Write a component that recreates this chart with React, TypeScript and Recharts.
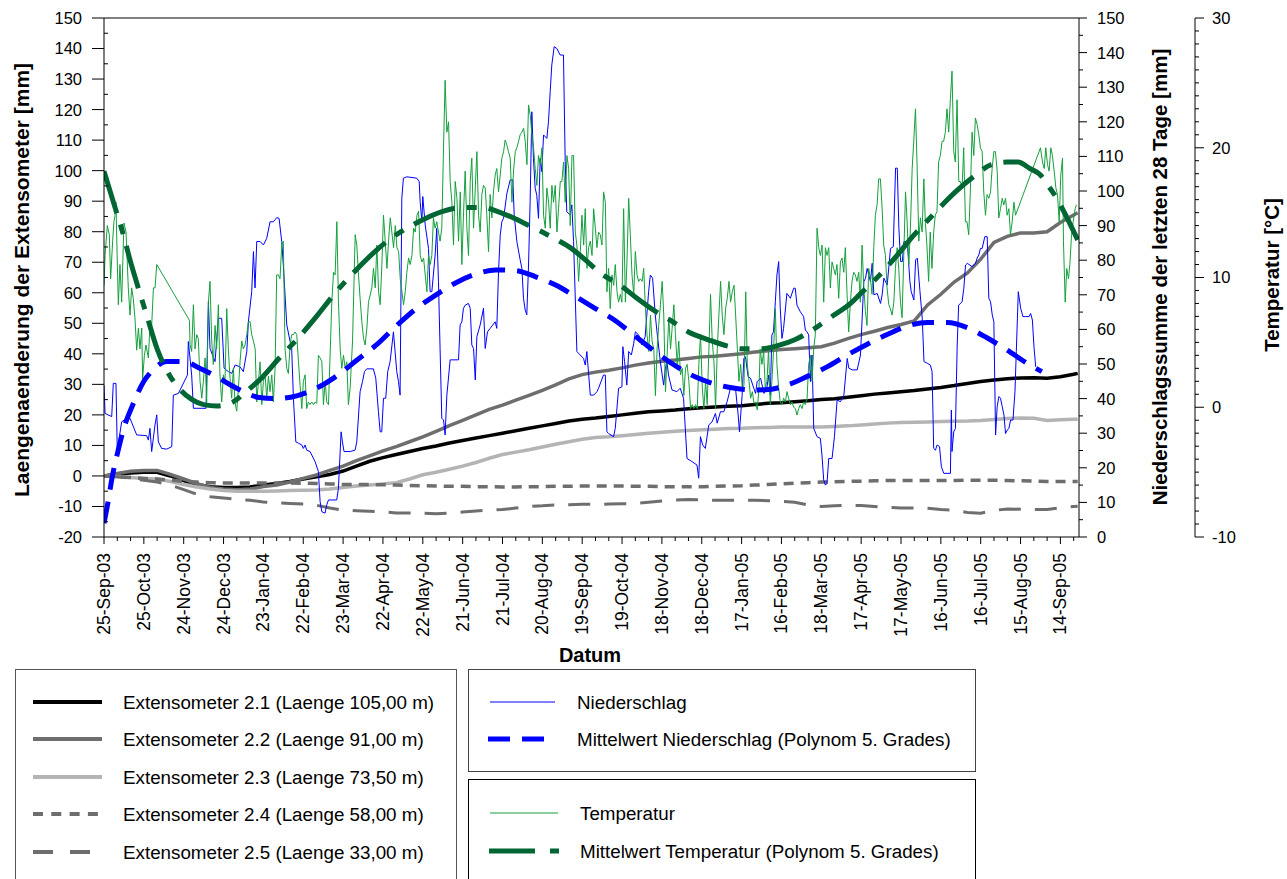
import React from 'react'
import { LineChart, Line, XAxis, YAxis, ReferenceLine } from 'recharts'

const FONT = 'Arial, "Liberation Sans", Helvetica, sans-serif'

// date axis: one label every 30 days, starting 25-Sep-03 (day 0)
const DATE_LABELS = [
  '25-Sep-03', '25-Oct-03', '24-Nov-03', '24-Dec-03', '23-Jan-04', '22-Feb-04', '23-Mar-04',
  '22-Apr-04', '22-May-04', '21-Jun-04', '21-Jul-04', '20-Aug-04', '19-Sep-04', '19-Oct-04',
  '18-Nov-04', '18-Dec-04', '17-Jan-05', '16-Feb-05', '18-Mar-05', '17-Apr-05', '17-May-05',
  '16-Jun-05', '16-Jul-05', '15-Aug-05', '14-Sep-05',
]
const X_TICKS = Array.from({ length: 74 }, (_, i) => i * 10)
const EXT_TICKS = Array.from({ length: 35 }, (_, i) => -20 + i * 5)
const PREC_TICKS = Array.from({ length: 31 }, (_, i) => i * 5)
const TEMP_TICKS = Array.from({ length: 41 }, (_, i) => -10 + i)

// extensometer readings, sampled every 10 days
const EXT_DAYS = [
  0, 10, 20, 30, 40, 50, 60, 70, 80, 90, 100, 110, 120, 130, 140, 150, 160, 170, 180, 190,
  200, 210, 220, 230, 240, 250, 260, 270, 280, 290, 300, 310, 320, 330, 340, 350, 360, 370,
  380, 390, 400, 410, 420, 430, 440, 450, 460, 470, 480, 490, 500, 510, 520, 530, 540, 550,
  560, 570, 580, 590, 600, 610, 620, 630, 640, 650, 660, 670, 680, 690, 700, 710, 720, 730, 733,
]
const EXT_21 = [
  0, 0.6, 1.0, 1.2, 1.2, 0, -1.5, -2.8, -3.5, -3.8, -3.8, -3.6, -3.0, -2.5, -1.8, -1.0, -0.3, 0.5, 1.6, 3.2,
  4.8, 6.0, 7.0, 8.0, 9.0, 9.8, 10.8, 11.6, 12.4, 13.2, 14.0, 14.8, 15.6, 16.4, 17.2, 18.0, 18.6, 19.0,
  19.5, 20.0, 20.5, 21.0, 21.3, 21.6, 22.0, 22.3, 22.6, 22.8, 23.0, 23.4, 23.8, 24.0, 24.3, 24.6, 25.0, 25.3,
  25.8, 26.3, 26.8, 27.2, 27.6, 28.0, 28.5, 29.0, 29.6, 30.3, 30.9, 31.4, 31.8, 32.1, 32.2, 32.0, 32.5, 33.3, 33.6,
]
const EXT_22 = [
  0, 0.8, 1.5, 1.8, 1.8, 0.5, -1.0, -2.5, -3.8, -4.3, -4.5, -4.3, -3.5, -3.0, -2.0, -0.8, 0.3, 1.8, 3.2, 5.0,
  6.6, 8.2, 9.6, 11.2, 12.8, 14.6, 16.5, 18.2, 20.0, 21.8, 23.2, 24.8, 26.4, 28.0, 29.8, 31.8, 33.2, 34.0,
  34.6, 35.4, 36.3, 37.0, 37.6, 38.0, 38.5, 39.0, 39.2, 39.6, 40.0, 40.6, 41.0, 41.4, 41.7, 42.0, 42.3, 43.5,
  45.0, 46.3, 47.4, 48.6, 49.6, 50.8, 56.0, 59.5, 63.5, 66.5, 71.0, 76.5, 78.5, 79.6, 79.6, 80.0, 83.0, 85.5, 86.2,
]
const EXT_23 = [
  0, -0.3, -0.5, -0.8, -1.0, -1.8, -2.8, -3.6, -4.3, -4.8, -5.0, -5.0, -5.0, -4.9, -4.8, -4.7, -4.6, -4.3, -3.8, -3.3,
  -3.0, -2.6, -2.2, -1.0, 0.4, 1.2, 2.2, 3.2, 4.4, 5.8, 7.0, 7.8, 8.6, 9.5, 10.4, 11.2, 12.0, 12.6,
  12.8, 13.2, 13.6, 14.0, 14.3, 14.6, 14.9, 15.1, 15.3, 15.5, 15.6, 15.8, 15.9, 16.0, 16.0, 16.0, 16.0, 16.2,
  16.4, 16.7, 17.0, 17.3, 17.5, 17.6, 17.7, 17.8, 17.9, 18.0, 18.2, 18.5, 18.8, 19.0, 18.9, 18.2, 18.4, 18.6, 18.6,
]
const EXT_24 = [
  0, -0.3, -0.5, -0.8, -1.0, -1.4, -1.8, -2.0, -2.2, -2.3, -2.3, -2.3, -2.3, -2.3, -2.3, -2.4, -2.5, -2.6, -2.8, -2.8,
  -2.8, -2.9, -3.0, -3.1, -3.2, -3.3, -3.4, -3.4, -3.5, -3.5, -3.6, -3.6, -3.5, -3.5, -3.4, -3.4, -3.3, -3.3,
  -3.3, -3.3, -3.4, -3.4, -3.5, -3.5, -3.5, -3.5, -3.4, -3.3, -3.2, -3.0, -2.8, -2.6, -2.4, -2.2, -2.0, -1.9,
  -1.8, -1.7, -1.6, -1.5, -1.5, -1.5, -1.5, -1.5, -1.5, -1.4, -1.4, -1.4, -1.5, -1.6, -1.7, -1.8, -1.8, -1.8, -1.8,
]
const EXT_25 = [
  0, -0.3, -0.8, -1.4, -2.0, -3.0, -4.5, -6.0, -6.8, -7.2, -7.6, -8.0, -8.5, -8.8, -9.0, -9.2, -9.6, -10.5, -11.2, -11.4,
  -11.6, -11.8, -12.1, -12.1, -12.2, -12.4, -12.2, -11.8, -11.5, -11.2, -11.0, -10.5, -10.0, -9.8, -9.5, -9.4, -9.3, -9.3,
  -9.2, -9.1, -9.0, -8.6, -8.2, -7.9, -7.7, -7.8, -8.0, -8.0, -8.0, -8.0, -8.1, -8.3, -8.6, -9.5, -10.0, -9.8,
  -9.6, -9.7, -10.0, -10.3, -10.5, -10.5, -10.6, -11.0, -11.2, -12.0, -12.2, -11.3, -10.8, -10.9, -11.0, -11.0, -10.4, -10.0, -9.9,
]

// Niederschlagssumme der letzten 28 Tage [mm]: [day, mm]
const PRECIP: number[][] = [
  [0, 43.9], [0.8, 35.7], [5.8, 34.8], [7, 44.4], [9, 44.4], [10, 25], [13.3, 33.3], [17.1, 34.3], [19.6, 34.3],
  [24.6, 29.5], [32.1, 29.3], [33.4, 28.0], [34.6, 31.4], [35.9, 24.7], [38.4, 32.4], [39.7, 35.3], [40.9, 27.5],
  [43.4, 25.6], [47.2, 25.4], [51, 26.1], [52.2, 41.0], [56, 41.5], [62.8, 46.8], [63.5, 56.5], [66, 46.8],
  [67.3, 37.2], [76.8, 37.2], [78.6, 68.0], [79.8, 54.5], [83.6, 50.7], [86.1, 63.2], [88.6, 63.2], [90.4, 48.8],
  [93.6, 47.8], [96.2, 47.3], [98.7, 49.7], [102.4, 49.2], [104.9, 47.8], [107.5, 53.6], [108.7, 62.2], [111.2, 70.9],
  [112.5, 82.5], [113.7, 72.0], [115, 85.4], [117.5, 85.4], [120, 84.4], [122.5, 86.3], [125, 91.1],
  [127.5, 91.1], [130, 92.3], [131.8, 92.1], [133.8, 85.4], [135, 78.6], [137.6, 61.3], [140.1, 56.5], [141.3, 54.5],
  [142.6, 40.1], [144.4, 27.5], [146.4, 27.1], [148.9, 26.6], [150.1, 25.6], [151.4, 26.6], [152.6, 25.1], [155.1, 24.7],
  [158.9, 21.8], [161.4, 18.9], [162.7, 10.2], [164, 7.3], [166.4, 6.9], [167.7, 9.3], [169, 10.7], [175.2, 10.7],
  [176.5, 14.1], [178.5, 30.4], [179.5, 27.5], [180.7, 24.7], [185.3, 24.7], [189, 25.1], [190.3, 27.5], [192.8, 42.0],
  [194.6, 44.9], [196.1, 47.8], [197.8, 48.6], [202.8, 48.6], [204.6, 45.9], [206.6, 36.2], [207.9, 30.4], [209.1, 30.4],
  [210.4, 40.1], [212.1, 40.1], [213.6, 47.8], [215.4, 50.7], [217.9, 59.3], [220.4, 47.8], [221.7, 44.9], [222.9, 41.0],
  [224.2, 97.9], [225.4, 103.7], [228, 104.1], [235.5, 103.7], [237.3, 102.7], [238, 96.9], [239.3, 91.1], [240, 98.4],
  [241.8, 90.2], [244.3, 83.4], [245.5, 70.9], [246.8, 70.9],
  [249.3, 81.5], [250.5, 89.2], [251.8, 73.8], [253, 54.5], [254.3, 34.3], [255.6, 33.8], [256.8, 29.5], [258.1, 41.0],
  [260.6, 51.2], [266.9, 51.2], [268.1, 61.3], [269.4, 62.2], [270.6, 66.1], [271.9, 67.0], [274.4, 67.5], [275.7, 66.1],
  [276.9, 55.5], [278.2, 54.5], [279.5, 45.4], [280.7, 57.9], [283.2, 61.3], [285.7, 66.1], [287, 54.5], [288.7, 59.3],
  [290.7, 60.3], [294.5, 62.2], [295.7, 60.3], [297, 76.7], [298.3, 87.3], [299.5, 91.1], [300.8, 92.1], [303.3, 99.3],
  [305.8, 103.2], [307.8, 103.2], [308.8, 93.1], [310.8, 85.4], [313.3, 80.1], [314.6, 77.6], [315.8, 69.0], [317.1, 65.6],
  [318.3, 64.2], [319.6, 78.6], [320.8, 96.9], [322.1, 122.9], [323.3, 109.4], [324.6, 100.8], [325.8, 98.8], [327.1, 92.1],
  [328.4, 109.4], [329.6, 105.6], [330.9, 116.2], [333.4, 115.2], [334.6, 120.0], [335.9, 128.7], [337.1, 136.4],
  [338.9, 141.7], [340.9, 141.2], [343.4, 139.3], [345.9, 139.3], [347.2, 108.5], [348.4, 94.0], [351, 93.1], [352.2, 96.0],
  [353.5, 85.4], [356, 53.6], [358.5, 52.6], [361, 51.6], [362.3, 49.7], [363.5, 53.6], [366.1, 41.0], [368.6, 41.0],
  [371.1, 42.0], [372.3, 43.0], [376, 46.8], [377.4, 46.8], [378.6, 30.4], [379.9, 29.9], [383.6, 29.0], [384.9, 31.4],
  [387.4, 43.0], [389.9, 43.4], [390.6, 55.0], [391.9, 50.7], [393.6, 43.9], [395, 53.6], [397, 52.6], [398.8, 56.0],
  [400, 59.3], [402.5, 58.4], [405, 55.5], [407.4, 57.9], [410, 70.9], [411.3, 75.7], [413, 74.8], [415, 64.2],
  [416.3, 59.3], [418.8, 50.7], [421.3, 43.9], [422.6, 48.8], [423.8, 50.7], [425, 46.8], [427.6, 42.5], [431.3, 42.0],
  [433.8, 43.0], [436.3, 40.1], [438.9, 22.7], [442.6, 21.8], [446.4, 20.8], [447.7, 17.0], [449, 29.0], [450.7, 26.6],
  [452.7, 25.6], [455.3, 32.4], [457.8, 33.3], [460.3, 35.7], [461.6, 32.9], [464.1, 36.2], [466.6, 36.2], [469.1, 39.1],
  [471.6, 43.0], [475.4, 43.0], [477.4, 35.3], [478.4, 30.4], [480.4, 41.0], [481.7, 51.6], [482.9, 52.1], [484.9, 46.3],
  [486.7, 45.9], [489.2, 43.0], [490.5, 41.5], [491.7, 44.9], [494.3, 45.9], [496.8, 41.5], [499, 43.0],
  [500.3, 46.8], [501.6, 41.0], [502.8, 58.4], [504, 59.3], [505.4, 68.0], [506.6, 75.7], [507.9, 79.6], [509.1, 66.1],
  [510.4, 57.4], [511.6, 60.3], [514.1, 70.4], [516.7, 69.0], [519.2, 71.9], [520.4, 71.9], [521.7, 67.0], [524.2, 65.1],
  [526.7, 63.7], [528, 59.8], [529.2, 59.3], [530.5, 58.4], [531.8, 44.9], [533, 52.6], [534.3, 31.4], [536.8, 29.0],
  [539.3, 28.5], [540.5, 23.7], [541.8, 16.5], [543.1, 15.0], [544.3, 15.5], [545.6, 22.7], [548.1, 22.7], [549.9, 29.0],
  [551.9, 39.6], [554.4, 39.1], [557, 41.0], [559.5, 51.6], [560.7, 48.8], [563.3, 48.3], [567, 48.3], [569.5, 52.6],
  [572, 73.8], [573.3, 74.8], [574.5, 77.6], [577, 73.8], [578.3, 79.1], [579.6, 70.0], [582.1, 70.4], [584.6, 67.5],
  [585.8, 70.0], [587.1, 74.8], [589.6, 72.8], [592.1, 83.4], [594.2, 83.9], [595.9, 106.6], [597.2, 106.6], [598.4, 89.2],
  [599.7, 79.6], [601, 79.6], [602.2, 85.4], [604.7, 85.4], [606.7, 73.8], [607.7, 70.9], [609.7, 68.5], [611, 80.1],
  [612.3, 80.6], [614.3, 70.9], [616, 63.2], [617.3, 50.7], [619.8, 50.2],
  [622.1, 49.7], [623.4, 47.8], [624.6, 25.6], [625.9, 25.1], [627.2, 26.6], [629, 26.1], [630.4, 20.3], [632.2, 18.4],
  [637.2, 18.4], [637.9, 36.7], [638.4, 24.7], [639.7, 30.4], [641, 31.4], [642.3, 55.5], [643.4, 67.0], [646, 68.0],
  [647.3, 71.9], [648.6, 78.6], [649.9, 79.1], [653.6, 78.1], [656.1, 79.1], [657.3, 80.6], [658.6, 81.5], [659.8, 83.4],
  [661.1, 83.4], [663.1, 86.8], [664.9, 86.8], [666.1, 69.0], [667.4, 68.0], [668.7, 64.2], [669.9, 62.2], [671.2, 29.5],
  [672.4, 37.7], [673.7, 40.6], [674.9, 40.1], [676.2, 37.7], [677.5, 35.3], [678.7, 29.9], [680, 30.9], [681.2, 31.4],
  [682.5, 33.8], [684.3, 33.8], [685.8, 42.0], [686.8, 53.6], [688.3, 70.9], [690.1, 66.1], [691.8, 63.7], [693.9, 63.7],
  [696.4, 63.7], [697.6, 64.6], [698.9, 62.7], [700.2, 54.5], [701.4, 49.2],
]

const PRECIP_TREND: number[][] = [
  [0, 4], [3, 10], [6, 17], [10, 24], [15, 31.5], [22, 38.5], [30, 45], [37, 48.3], [47, 50.7], [60, 50.7],
  [72, 48.8], [85, 46.3], [95, 44], [105, 42], [117, 40.3], [130, 40], [145, 40.8], [160, 43], [175, 46.5],
  [190, 51], [205, 55.5], [220, 61], [235, 66], [250, 70], [265, 73.5], [280, 76], [295, 77.2], [310, 77],
  [325, 75.2], [340, 72.8], [355, 69.5], [370, 66], [385, 62.5], [400, 58], [415, 53.5], [430, 49.5], [445, 46.3],
  [460, 44.2], [475, 43], [490, 42.5], [500, 42.6], [515, 44], [530, 46.5], [545, 49.3], [560, 52.7], [575, 55.8],
  [590, 58.6], [605, 61], [620, 62], [635, 62], [650, 60.5], [665, 57.5], [680, 54], [695, 50.2], [706, 47.8],
]

// Temperatur [°C]: [day, °C]
const TEMP: number[][] = [
  [0, 9.4], [0.8, 11.7], [2.5, 14.0], [4, 13.3], [5, 9.9], [6.5, 12.8], [7.5, 14.3], [8.3, 14.8], [9, 15.8], [10, 11.2],
  [10.8, 7.9], [12, 11.0], [13.3, 8.1], [15, 14.2], [16.6, 13.5], [18.3, 9.2], [19.6, 7.1], [20.8, 9.2], [22, 8.4],
  [23.3, 6.9], [24.6, 4.4], [25.9, 6.1], [27.1, 4.5], [28.4, 6.1], [29.1, 2.2], [30.4, 4.0], [31.6, 4.8], [33.4, 3.8],
  [34.6, 6.3], [35.9, 6.3], [37.2, 9.2], [38.4, 9.2], [39.7, 11.0],
  [64.3, 6.7], [64.8, 4.8], [66, 4.3], [67.3, 7.9], [68.5, 4.5], [69.8, 5.6], [71, 5.3], [72.3, 2.0], [73.6, 0.7],
  [74.8, 2.0], [76.1, 3.8], [77.3, 0.4], [78.6, 8.1], [79.8, 9.7], [81.1, 5.1], [82.3, 3.3], [83.6, 6.3], [84.8, 4.5],
  [86.1, 7.9], [87.3, 2.5], [88.6, 0.4], [89.9, 2.5], [91.1, 2.0], [92.4, 7.6], [93.6, 4.5], [94.9, 2.2], [96.1, 0.7],
  [97.4, 3.0], [98.6, 0.4], [99.9, -0.3], [101.2, 1.5], [102.4, 3.5], [103.7, 5.1], [104.9, 4.5], [106.2, 4.8],
  [107.5, 5.6], [108.7, 6.6], [110, 6.6], [111.2, 5.6], [112.5, 5.1], [113.8, 4.5], [115, 0.4], [116.3, 2.0],
  [117.5, 3.5], [118.8, 0.2], [120, 2.0],
  [121.3, 2.5], [122.5, 0.7], [123.8, 2.4], [125, 1.2], [126.3, 2.5], [127.5, 0.4], [128.8, 3.0], [130, 10.2],
  [131.3, 10.2], [132.5, 9.9], [133.8, 12.5], [135, 12.8], [136.3, 4.5], [137.6, 3.0], [138.8, 2.6], [140.1, 4.8],
  [141.3, 5.6], [142.6, 5.6], [143.8, 5.8], [145.1, 5.6], [146.4, 3.5], [147.6, 1.7], [148.9, -0.1], [150.1, 2.0],
  [151.4, 2.5], [152.6, -0.1], [153.9, 0.4], [155.1, 0.2], [156.4, 0.4], [157.7, 0.2], [158.9, 0.4], [160.2, 0.3],
  [161.4, 4.0], [162.7, 3.8], [164, 3.5], [165.2, 0.2], [166.5, 2.0], [167.7, 0.4], [169, 0.2], [171.5, 8.1],
  [172.8, 10.4], [174, 10.2], [175.3, 14.3], [176.5, 8.1], [177.8, 4.5], [179, 3.0], [180.3, 4.0], [181.6, 3.0],
  [182.8, 3.5], [184, 0.2], [185.3, 1.5], [187.1, 5.1], [189.1, 13.3], [190.3, 12.5], [191.6, 10.2], [192.8, 8.4],
  [194.1, 6.6], [195.4, 5.3], [196.6, 4.8], [197.9, 6.1], [199.1, 8.1], [201.6, 9.2], [202.9, 10.7], [204.2, 9.2],
  [205.4, 12.5], [206.7, 8.9], [207.9, 7.9], [209.2, 11.0], [210.4, 14.8], [211.7, 12.8], [213, 10.7], [214.2, 12.8],
  [215.5, 14.6], [216.7, 13.5], [218, 12.3], [219.3, 14.0], [220.5, 12.3], [221.8, 12.0], [223, 9.9], [224.3, 8.9],
  [225.5, 7.9], [226.8, 8.9], [228, 10.4], [229.3, 11.5], [230.5, 11.0], [231.8, 11.7], [233.1, 13.8], [234.3, 13.5],
  [235.6, 14.8], [236.8, 15.1], [238.1, 11.7], [239.3, 11.2], [240.6, 11.5], [241.8, 10.2], [243.1, 8.9], [244.3, 11.7],
  [245.6, 11.0],
  [246.8, 11.7], [248, 14.6], [249.3, 13.8], [250.5, 14.3], [251.8, 13.5], [253, 12.8], [254.3, 13.8], [255.6, 20.0],
  [256.8, 25.2], [258.1, 21.2], [259.4, 22.0], [260.6, 17.4], [261.9, 15.8], [263.1, 12.5], [264.4, 17.4], [265.7, 16.1],
  [266.9, 12.8], [268.2, 16.6], [269.4, 11.0], [270.7, 15.1], [271.9, 18.2], [273.2, 13.8], [274.4, 11.7], [275.7, 17.4],
  [276.9, 19.2], [278.2, 13.8], [279.5, 16.9], [280.7, 19.7], [282, 14.8], [283.2, 13.5], [284.5, 16.4], [285.7, 17.1],
  [287, 16.9], [288.2, 14.8], [289.5, 12.0], [290.7, 16.4], [292, 14.6], [293.2, 16.6], [294.5, 17.9], [295.7, 18.4],
  [297, 16.6], [298.3, 17.9], [299.5, 19.2], [300.8, 19.7], [302, 20.6], [303.3, 20.2], [304.5, 19.7], [305.8, 19.2],
  [307.1, 15.8], [308.3, 18.2], [309.6, 19.7], [310.8, 20.0], [312.1, 20.5], [313.3, 21.0], [314.6, 21.2], [315.9, 21.5],
  [317.1, 20.5], [318.4, 18.7], [319.6, 23.3], [320.9, 22.5], [322.1, 21.0], [323.4, 20.0], [324.6, 18.4], [325.9, 17.1],
  [327.1, 19.4], [328.4, 18.7], [329.7, 20.0], [330.9, 14.8], [332.2, 13.8], [333.4, 16.9], [334.7, 15.8], [335.9, 13.8],
  [337.2, 17.1], [338.4, 15.8], [339.7, 17.1], [341, 13.5], [342.2, 15.3], [343.5, 17.4], [344.7, 17.4], [346, 18.9],
  [347.2, 15.8], [348.5, 19.4], [349.8, 18.4], [351, 14.0], [352.3, 19.4], [353.5, 19.4], [354.8, 13.5], [356, 12.5],
  [357.3, 9.7], [358.6, 12.0], [359.8, 14.8], [361.1, 12.5], [362.3, 15.3], [363.6, 10.7], [364.8, 12.3], [366.1, 12.8],
  [367.4, 11.7], [368.6, 15.3], [369.9, 13.8],
  [371.1, 12.3], [372.3, 13.5], [373.6, 13.3], [374.9, 12.5], [376.1, 16.6], [377.4, 15.8], [378.6, 8.9], [379.9, 10.7],
  [381.1, 7.6], [382.4, 10.2], [383.7, 9.4], [384.9, 11.0], [386.2, 8.9], [387.4, 8.1], [388.7, 8.7], [389.9, 8.1],
  [391.2, 15.3], [392.5, 8.1], [393.7, 11.2], [395, 16.1], [396.2, 13.3], [397.5, 10.2], [398.8, 8.7], [400, 12.0],
  [401.3, 10.2], [402.5, 9.7], [403.8, 9.9], [405.1, 9.7], [406.3, 10.7], [407.6, 7.6], [408.8, 5.6], [410.1, 4.3],
  [411.4, 7.1], [412.6, 5.1], [413.9, 4.5], [415.1, 0.9], [416.4, 4.5], [417.6, 6.3], [418.9, 7.9], [420.2, 9.7],
  [421.4, 7.1], [422.7, 1.2], [423.9, 4.0], [425.2, 6.9], [426.5, 4.5], [427.7, 6.1], [429, 7.9], [430.2, 5.6],
  [431.5, 3.3], [432.7, 5.1], [434, 2.5], [435.3, 3.0], [436.5, 0.9], [437.8, 3.0], [439, 3.3], [440.3, 2.0],
  [441.6, -0.1], [442.8, 0.2], [444.1, -0.1], [445.3, 0.2], [446.6, -0.1], [447.8, 3.3], [449.1, 5.6], [450.4, 1.5],
  [451.6, -0.1], [452.9, 2.0], [454.1, 0.2], [455.4, 4.5], [456.6, 8.7], [457.9, 5.1], [459.2, 3.5], [460.4, -0.1],
  [461.7, 4.5], [462.9, 7.1], [464.2, 9.7], [465.4, 7.1], [466.7, 5.6], [468, 7.6], [469.2, 8.4], [470.5, 9.7],
  [471.7, 8.1], [473, 8.9], [474.3, 9.4], [475.5, 7.1], [476.8, 4.5], [478, 2.0], [479.3, 3.3], [480.5, 1.5],
  [481.8, 1.7], [483.1, 8.9], [484.3, 3.3], [485.6, 2.0], [486.8, 0.7], [488.1, 1.2], [489.3, 0.3], [490.6, 0.4],
  [491.8, -0.2], [493.1, 1.5],
  [494, 4.5], [495.3, 3.3], [496.6, 4.3], [497.8, 1.5], [499.1, 2.0], [500.3, 4.5], [501.6, 0.2], [502.8, 2.0],
  [504.1, 4.5], [505.4, 7.6], [506.6, 3.3], [507.9, 1.5], [509.1, 0.4], [510.4, 0.2], [511.6, 0.7], [512.9, 0.4],
  [514.2, 1.2], [515.4, 0.7], [516.7, 0.2], [517.9, 0.4], [519.2, 0.0], [520.5, -0.1], [521.7, -0.6], [523, -0.1],
  [524.2, 0.2], [525.5, -0.1], [526.7, 0.4], [528, 0.2], [529.3, 0.7], [530.5, 3.3], [531.8, 4.0], [533, 2.0],
  [534.3, 4.5], [535.5, 5.6], [536.8, 13.8], [538.1, 12.3], [539.3, 11.7], [540.6, 12.5], [541.8, 8.1], [543.1, 12.3],
  [544.3, 11.7], [545.6, 12.3], [546.8, 9.2], [548.1, 11.2], [549.3, 10.7], [550.6, 10.2], [551.8, 11.0], [553.1, 8.4],
  [554.4, 11.2], [555.6, 11.5], [556.9, 10.4], [558.1, 12.3], [559.4, 8.7], [560.6, 5.8], [561.9, 8.1], [563.1, 9.7],
  [564.4, 10.4], [565.6, 10.2], [566.9, 9.7], [568.2, 10.4], [569.4, 8.1], [570.7, 12.5], [571.9, 9.4], [573.2, 7.4],
  [574.4, 6.3], [575.7, 10.7], [577, 9.9], [578.2, 8.7], [579.5, 12.3], [580.7, 14.8], [582, 15.6], [583.2, 17.6],
  [584.5, 17.6], [585.8, 15.3], [587, 12.5], [588.3, 11.7], [589.5, 9.2], [590.8, 7.9], [592, 7.6], [593.3, 7.1],
  [594.6, 8.1], [595.8, 10.7], [597.1, 12.3], [598.3, 10.7], [599.6, 8.1], [600.8, 6.9], [602.1, 11.7], [603.4, 16.6],
  [604.6, 14.3], [605.9, 11.0], [607.1, 13.8], [608.4, 18.4], [609.6, 20.5], [610.9, 23.0], [612.1, 18.7], [613.4, 12.8],
  [614.6, 14.6], [615.9, 13.5], [617.2, 17.6],
  [618.3, 14.3], [619.5, 12.5], [620.8, 9.7], [622, 13.5], [623.3, 10.7], [624.6, 13.5], [625.8, 14.8], [627.1, 15.1],
  [628.3, 18.9], [629.6, 19.4], [630.9, 20.5], [632.1, 20.5], [633.4, 21.2], [634.6, 23.0], [635.9, 21.2], [637.2, 23.8],
  [638.4, 25.9], [639.7, 19.7], [640.9, 18.9], [642.2, 23.7], [643.5, 17.4], [644.7, 17.4], [646, 16.9], [647.2, 20.0],
  [648.5, 14.3], [649.7, 14.3], [651, 13.3], [652.3, 16.9], [653.5, 21.2], [654.8, 19.4], [656, 22.3], [657.3, 21.8],
  [658.6, 21.0], [659.8, 20.0], [661.1, 19.7], [662.3, 16.6], [663.6, 14.8], [664.8, 16.4], [666.1, 16.1], [667.4, 16.6],
  [668.6, 18.4], [669.9, 19.7], [671.1, 19.7], [672.4, 18.2], [673.6, 14.6], [674.9, 15.3], [676.2, 16.1], [677.4, 15.6],
  [678.7, 16.1], [679.9, 14.8], [681.2, 15.3], [682.4, 13.3], [683.7, 14.3], [685, 15.8], [686.2, 14.8],
  [705, 20.0], [706.5, 18.9], [707.8, 18.4], [709, 20.0], [710.3, 18.7], [711.5, 18.2], [712.8, 20.0], [714, 19.4],
  [715.3, 18.2], [716.6, 16.9], [717.8, 16.4], [719.1, 14.3], [720.3, 17.9], [721.6, 19.2], [722.3, 12.8], [723.6, 8.1],
  [724.8, 10.7], [726.1, 9.9], [727.1, 11.0], [728.4, 13.3], [729.6, 14.3], [731.1, 15.3], [732.1, 15.6],
]

const TEMP_TREND: number[][] = [
  [0, 18.2], [8, 15.5], [14, 13.5], [20, 11.2], [27, 8.8], [33, 6.8], [40, 4.5], [48, 2.7], [57, 1.4], [66, 0.6],
  [75, 0.2], [85, 0.1], [97, 0.4], [107, 1.2], [119, 2.3], [132, 3.8], [145, 5.2], [160, 7.0], [174, 8.8],
  [190, 10.6], [205, 12.1], [220, 13.3], [237, 14.3], [255, 15.1], [271, 15.4], [285, 15.4], [296, 15.1],
  [308, 14.6], [320, 14.0], [330, 13.5], [341, 12.9], [351, 12.3], [363, 11.3], [373, 10.4], [390, 9.3],
  [400, 8.5], [415, 7.4], [428, 6.6], [440, 5.8], [455, 5.2], [470, 4.7], [481, 4.5], [494, 4.5], [509, 4.8],
  [520, 5.2], [534, 6.0], [548, 7.0], [562, 8.0], [569, 8.7], [584, 10.2], [597, 11.7], [610, 13.3], [622, 14.6],
  [633, 15.8], [641, 16.6], [655, 17.8], [668, 18.7], [680, 18.9], [688, 18.9], [697, 18.4], [705, 17.9],
  [710, 17.2], [716, 16.3], [721, 15.4], [733, 12.9],
]

const fromDays = (days: number[], vals: number[]) => days.map((day, i) => ({ day, v: vals[i] }))
const fromPairs = (pairs: number[][]) => pairs.map(([day, v]) => ({ day, v }))

const GREY = '#6e6e6e'
const EXT_SERIES = [
  { name: 'Extensometer 2.1 (Laenge 105,00 m)', values: EXT_21, color: '#000000', width: 3.5, dash: undefined },
  { name: 'Extensometer 2.2 (Laenge 91,00 m)', values: EXT_22, color: GREY, width: 3.5, dash: undefined },
  { name: 'Extensometer 2.3 (Laenge 73,50 m)', values: EXT_23, color: '#b4b4b4', width: 3.5, dash: undefined },
  { name: 'Extensometer 2.4 (Laenge 58,00 m)', values: EXT_24, color: GREY, width: 3.5, dash: '10 7' },
  { name: 'Extensometer 2.5 (Laenge 33,00 m)', values: EXT_25, color: GREY, width: 3, dash: '22 14' },
]
const BLUE = '#0000ff'
const GREEN = '#14a03c'
const DARK_GREEN = '#006633'

const LeftTick = ({ x, y, payload }: any) => {
  const v = payload.value
  const major = v % 10 === 0
  return (
    <g>
      {major
        ? <line x1={x - 12} x2={x} y1={y} y2={y} stroke="#000" />
        : <line x1={x} x2={x + 4} y1={y} y2={y} stroke="#000" />}
      {major && (
        <text x={x - 22} y={y} dy="0.36em" textAnchor="end" fontSize={16.5} fontFamily={FONT} fill="#000">{v}</text>
      )}
    </g>
  )
}

const PrecTick = ({ x, y, payload }: any) => {
  const v = payload.value
  const major = v % 10 === 0
  return (
    <g>
      <line x1={x} x2={x + (major ? 8 : 4)} y1={y} y2={y} stroke="#000" />
      {major && (
        <text x={x + 18} y={y} dy="0.36em" textAnchor="start" fontSize={16.5} fontFamily={FONT} fill="#000">{v}</text>
      )}
    </g>
  )
}

const TempTick = ({ x, y, payload }: any) => {
  const v = payload.value
  const major = v % 10 === 0
  return (
    <g>
      <line x1={x} x2={x + (major ? 9 : 4)} y1={y} y2={y} stroke="#000" />
      {major && (
        <text x={x + 17} y={y} dy="0.36em" textAnchor="start" fontSize={16.5} fontFamily={FONT} fill="#000">{v}</text>
      )}
    </g>
  )
}

const DateTick = ({ x, y, payload }: any) => {
  const d = payload.value
  const major = d % 30 === 0
  const label = DATE_LABELS[d / 30]
  return (
    <g>
      <line x1={x} x2={x} y1={y} y2={y + (major ? 7 : 4)} stroke="#000" />
      {major && label && (
        <text
          x={x}
          y={y + 16}
          transform={`rotate(-90, ${x}, ${y + 16})`}
          textAnchor="end"
          dominantBaseline="central"
          fontSize={17.5}
          fontFamily={FONT}
          fill="#000"
        >
          {label}
        </text>
      )}
    </g>
  )
}

function LegendBoxes() {
  const rows1 = [702, 739, 777, 814, 852]
  const txt = { fontSize: 18.8, fontFamily: FONT, fill: '#000', dominantBaseline: 'central' as const }
  return (
    <svg width={1287} height={879} style={{ position: 'absolute', left: 0, top: 0, pointerEvents: 'none' }}>
      {/* axis titles */}
      <text x={28.6} y={280} transform="rotate(-90, 28.6, 280)" textAnchor="middle" fontSize={21} fontWeight="bold" fontFamily={FONT}>
        Laengenaenderung der Extensometer [mm]
      </text>
      <text x={1167} y={277} transform="rotate(-90, 1167, 277)" textAnchor="middle" fontSize={20.5} fontWeight="bold" fontFamily={FONT}>
        Niederschlagssumme der letzten 28 Tage [mm]
      </text>
      <text x={1279} y={275} transform="rotate(-90, 1279, 275)" textAnchor="middle" fontSize={20.5} fontWeight="bold" fontFamily={FONT}>
        Temperatur [°C]
      </text>
      <text x={590} y={662} textAnchor="middle" fontSize={20} fontWeight="bold" fontFamily={FONT}>Datum</text>

      {/* extensometer legend */}
      <rect x={15.5} y={669.5} width={441} height={230} fill="none" stroke="#555" />
      {EXT_SERIES.map((s, i) => (
        <g key={s.name}>
          <line x1={33} x2={102} y1={rows1[i]} y2={rows1[i]} stroke={s.color} strokeWidth={4} strokeDasharray={i === 3 ? '10 8.3' : i === 4 ? '20 17' : undefined} />
          <text x={123} y={rows1[i]} {...txt}>{s.name}</text>
        </g>
      ))}

      {/* precipitation legend */}
      <rect x={468.5} y={669.5} width={507} height={102} fill="none" stroke="#444" />
      <line x1={490} x2={555} y1={702} y2={702} stroke={BLUE} strokeWidth={1} />
      <text x={577} y={702} {...txt}>Niederschlag</text>
      <line x1={488} x2={544} y1={739} y2={739} stroke={BLUE} strokeWidth={5} strokeDasharray="22 12" />
      <text x={577} y={739} {...txt}>Mittelwert Niederschlag (Polynom 5. Grades)</text>

      {/* temperature legend */}
      <rect x={468.5} y={779.5} width={507} height={120} fill="none" stroke="#000" />
      <line x1={490} x2={558} y1={813} y2={813} stroke={GREEN} strokeWidth={1} />
      <text x={580} y={813} {...txt}>Temperatur</text>
      <line x1={489} x2={559} y1={851} y2={851} stroke={DARK_GREEN} strokeWidth={5} strokeDasharray="46 15 9 100" />
      <text x={580} y={851} {...txt}>Mittelwert Temperatur (Polynom 5. Grades)</text>
    </svg>
  )
}

export default function App() {
  return (
    <div style={{ position: 'absolute', left: 0, top: 0, width: 1287, height: 879, background: '#fff', overflow: 'hidden' }}>
      <LineChart width={1287} height={670} margin={{ top: 18, right: 0, bottom: 0, left: 0 }}>
        <XAxis
          dataKey="day"
          type="number"
          domain={[0, 734]}
          allowDataOverflow
          ticks={X_TICKS}
          interval={0}
          tick={DateTick}
          tickLine={false}
          tickSize={0}
          tickMargin={0}
          height={133}
          axisLine={{ stroke: '#000' }}
        />
        <YAxis
          yAxisId="ext"
          orientation="left"
          width={104}
          domain={[-20, 150]}
          ticks={EXT_TICKS}
          interval={0}
          tick={LeftTick}
          tickLine={false}
          tickSize={0}
          tickMargin={0}
          axisLine={{ stroke: '#000' }}
        />
        <YAxis
          yAxisId="prec"
          orientation="right"
          width={116}
          domain={[0, 150]}
          ticks={PREC_TICKS}
          interval={0}
          tick={PrecTick}
          tickLine={false}
          tickSize={0}
          tickMargin={0}
          axisLine={{ stroke: '#000' }}
        />
        <YAxis
          yAxisId="temp"
          orientation="right"
          width={92}
          domain={[-10, 30]}
          ticks={TEMP_TICKS}
          interval={0}
          tick={TempTick}
          tickLine={false}
          tickSize={0}
          tickMargin={0}
          axisLine={{ stroke: '#000' }}
        />
        <ReferenceLine yAxisId="ext" y={150} stroke="#000" strokeWidth={1} />

        {EXT_SERIES.map((s) => (
          <Line
            key={s.name}
            yAxisId="ext"
            data={fromDays(EXT_DAYS, s.values)}
            dataKey="v"
            type="linear"
            stroke={s.color}
            strokeWidth={s.width}
            strokeDasharray={s.dash}
            dot={false}
            activeDot={false}
            isAnimationActive={false}
          />
        ))}
        <Line
          yAxisId="prec"
          data={fromPairs(PRECIP)}
          dataKey="v"
          type="linear"
          stroke={BLUE}
          strokeWidth={1}
          dot={false}
          activeDot={false}
          isAnimationActive={false}
        />
        <Line
          yAxisId="temp"
          data={fromPairs(TEMP)}
          dataKey="v"
          type="linear"
          stroke={GREEN}
          strokeWidth={1}
          dot={false}
          activeDot={false}
          isAnimationActive={false}
        />
        <Line
          yAxisId="prec"
          data={fromPairs(PRECIP_TREND)}
          dataKey="v"
          type="monotone"
          stroke={BLUE}
          strokeWidth={5}
          strokeDasharray="22 12"
          dot={false}
          activeDot={false}
          isAnimationActive={false}
        />
        <Line
          yAxisId="temp"
          data={fromPairs(TEMP_TREND)}
          dataKey="v"
          type="monotone"
          stroke={DARK_GREEN}
          strokeWidth={5}
          strokeDasharray="44 12 10 12"
          dot={false}
          activeDot={false}
          isAnimationActive={false}
        />
      </LineChart>
      <LegendBoxes />
    </div>
  )
}
